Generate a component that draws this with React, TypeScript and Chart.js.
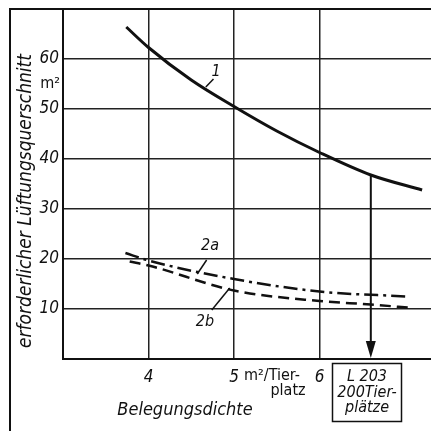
import React, { useEffect, useRef } from "react";
import { Chart, registerables } from "chart.js";

Chart.register(...registerables);

// Curve 1
const X1 = [3.74, 4.0, 4.5, 5.0, 5.5, 6.0, 6.6, 7.2];
const Y1 = [66.4, 62.3, 55.8, 50.5, 45.6, 41.3, 36.8, 33.8];
// Curve 2a (dash-dot)
const X2A = [3.73, 4.0, 5.0, 6.0, 7.02];
const Y2A = [21.2, 19.7, 16.0, 13.5, 12.5];
// Curve 2b (dashed)
const X2B = [3.78, 4.0, 5.0, 6.0, 6.6, 7.09];
const Y2B = [19.5, 18.7, 13.7, 11.6, 10.9, 10.2];

const X_TICKS = [4, 5, 6];
const Y_TICKS = [10, 20, 30, 40, 50, 60];
const X_MIN = 3;
const X_MAX = 7.304;
const Y_MIN = 0;
const Y_MAX = 70;

// Marked reading: L 203 with 200 places
const ARROW_X = 6.6;
const ARROW_Y = 36.8;

const Y_TITLE = "erforderlicher Lüftungsquerschnitt";
const Y_UNIT = "m²";
const X_TITLE = "Belegungsdichte";
const X_UNIT_1 = "m²/Tier-";
const X_UNIT_2 = "platz";
const BOX_LINES = ["L 203", "200Tier-", "plätze"];
const LABEL_1 = "1";
const LABEL_2A = "2a";
const LABEL_2B = "2b";

const FAMILY = '"DejaVu Sans Condensed", "DejaVu Sans", sans-serif';

const pts = (xs: number[], ys: number[]) => xs.map((x, i) => ({ x, y: ys[i] }));

const annotate = {
  id: "annotate",
  afterDraw(chart: any) {
    const { ctx, scales } = chart;
    const xs = scales.x;
    const ys = scales.y;
    const px = (v: number) => xs.getPixelForValue(v);
    const py = (v: number) => ys.getPixelForValue(v);
    ctx.save();
    ctx.strokeStyle = "#111";
    ctx.fillStyle = "#111";

    // outer frame
    ctx.lineWidth = 2;
    ctx.beginPath();
    ctx.moveTo(10, 431);
    ctx.lineTo(10, py(Y_MAX));
    ctx.lineTo(431, py(Y_MAX));
    ctx.stroke();

    // y title
    ctx.save();
    ctx.translate(26, 201);
    ctx.rotate(-Math.PI / 2);
    ctx.font = `italic 19px ${FAMILY}`;
    ctx.textAlign = "center";
    ctx.textBaseline = "middle";
    ctx.fillText(Y_TITLE, 0, 0);
    ctx.restore();

    // unit under 60
    ctx.font = `16px ${FAMILY}`;
    ctx.textAlign = "right";
    ctx.textBaseline = "middle";
    ctx.fillText(Y_UNIT, xs.left - 3, py(60) + 25);

    // x title and units
    ctx.font = `italic 18px ${FAMILY}`;
    ctx.textAlign = "center";
    ctx.fillText(X_TITLE, 185, 410);
    ctx.font = `16px ${FAMILY}`;
    ctx.textAlign = "left";
    ctx.fillText(X_UNIT_1, px(5) + 10, 376);
    ctx.textAlign = "center";
    ctx.fillText(X_UNIT_2, 288, 391);

    // curve labels + leaders
    ctx.font = `italic 16px ${FAMILY}`;
    ctx.textAlign = "center";
    ctx.fillText(LABEL_1, px(4.79), py(57.4));
    ctx.fillText(LABEL_2A, px(4.72), py(22.6));
    ctx.fillText(LABEL_2B, px(4.66), py(7.4));
    ctx.lineWidth = 1.5;
    const leader = (x0: number, y0: number, x1: number, y1: number) => {
      ctx.beginPath();
      ctx.moveTo(px(x0), py(y0));
      ctx.lineTo(px(x1), py(y1));
      ctx.stroke();
    };
    leader(4.76, 56.0, 4.67, 54.4);
    leader(4.68, 19.8, 4.57, 17.0);
    leader(4.74, 9.8, 4.95, 14.2);

    // arrow
    const ax = px(ARROW_X);
    ctx.lineWidth = 2;
    ctx.beginPath();
    ctx.moveTo(ax, py(ARROW_Y));
    ctx.lineTo(ax, py(0) - 12);
    ctx.stroke();
    ctx.beginPath();
    ctx.moveTo(ax, py(0) - 1);
    ctx.lineTo(ax - 5, py(0) - 18);
    ctx.lineTo(ax + 5, py(0) - 18);
    ctx.closePath();
    ctx.fill();

    // box
    ctx.lineWidth = 1.5;
    ctx.strokeRect(332.5, 363.5, 69, 58);
    ctx.font = `italic 16px ${FAMILY}`;
    ctx.textAlign = "center";
    ctx.fillText(BOX_LINES[0], 367, 377);
    ctx.fillText(BOX_LINES[1], 367, 393);
    ctx.fillText(BOX_LINES[2], 367, 408);

    ctx.restore();
  },
};

export default function App() {
  const ref = useRef<HTMLCanvasElement | null>(null);
  useEffect(() => {
    if (!ref.current) return;
    const chart = new Chart(ref.current, {
      type: "line",
      data: {
        datasets: [
          {
            data: pts(X1, Y1),
            borderColor: "#111",
            borderWidth: 3,
            pointRadius: 0,
            cubicInterpolationMode: "monotone",
            fill: false,
          },
          {
            data: pts(X2A, Y2A),
            borderColor: "#111",
            borderWidth: 2.5,
            borderDash: [14, 5, 3, 5],
            pointRadius: 0,
            cubicInterpolationMode: "monotone",
            fill: false,
          },
          {
            data: pts(X2B, Y2B),
            borderColor: "#111",
            borderWidth: 2.5,
            borderDash: [11, 6],
            pointRadius: 0,
            cubicInterpolationMode: "monotone",
            fill: false,
          },
        ],
      },
      options: {
        animation: false,
        responsive: false,
        events: [],
        layout: { padding: { top: 9, right: 0, left: 0, bottom: 0 } },
        plugins: { legend: { display: false }, tooltip: { enabled: false } },
        scales: {
          x: {
            type: "linear",
            min: X_MIN,
            max: X_MAX,
            afterBuildTicks: (s: any) => {
              s.ticks = X_TICKS.map((v) => ({ value: v }));
            },
            afterFit: (s: any) => {
              s.height = 72;
              s.paddingLeft = 0;
              s.paddingRight = 0;
            },
            grid: { color: "#222", lineWidth: 1.5, drawTicks: false },
            border: { color: "#111", width: 2 },
            ticks: {
              color: "#111",
              padding: 8,
              maxRotation: 0,
              font: { family: FAMILY, size: 17, style: "italic" },
              callback: (v: any) => String(v),
            },
          },
          y: {
            type: "linear",
            min: Y_MIN,
            max: Y_MAX,
            afterBuildTicks: (s: any) => {
              s.ticks = [Y_MIN, ...Y_TICKS, Y_MAX].map((v) => ({ value: v }));
            },
            afterFit: (s: any) => {
              s.width = 63;
              s.paddingTop = 0;
              s.paddingBottom = 0;
            },
            grid: { color: "#222", lineWidth: 1.5, drawTicks: false },
            border: { color: "#111", width: 2 },
            ticks: {
              color: "#111",
              padding: 4,
              font: { family: FAMILY, size: 17, style: "italic" },
              callback: (v: any) => (Y_TICKS.includes(Number(v)) ? String(v) : ""),
            },
          },
        },
      },
      plugins: [annotate],
    } as any);
    return () => chart.destroy();
  }, []);
  return (
    <div style={{ position: "fixed", left: 0, top: 0, width: 431, height: 431, background: "#fff" }}>
      <canvas ref={ref} width={431} height={431} style={{ display: "block" }} />
    </div>
  );
}
